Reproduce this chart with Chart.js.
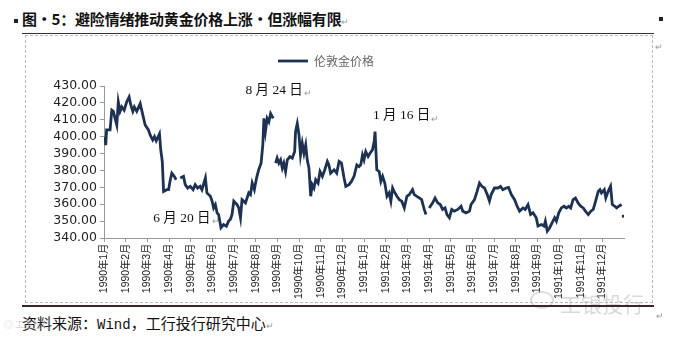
<!DOCTYPE html>
<html lang="zh-CN">
  <head>
    <meta charset="UTF-8" />
    <title>伦敦金价格</title>
    <script src="https://cdn.jsdelivr.net/npm/chart.js"></script>
    <style>
      * {
        margin: 0;
        padding: 0;
        box-sizing: border-box;
      }

      body {
        width: 673px;
        height: 338px;
        background: #fff;
        position: relative;
        overflow: hidden;
        font-family: "Noto Sans CJK SC", sans-serif;
      }

      /* 标题 */
      .title {
        position: absolute;
        left: 14px;
        top: 8px;
        font-size: 15px;
        font-weight: bold;
        color: #111;
        white-space: nowrap;
        letter-spacing: -0.2px;
      }
      .title .sq {
        display: inline-block;
        width: 4px;
        height: 4px;
        background: #222;
        margin-right: 4px;
        vertical-align: middle;
      }
      .ret {
        font-weight: normal;
        font-size: 9px;
        color: #999;
      }
      .sq-right {
        position: absolute;
        left: 659px;
        top: 17px;
        width: 4px;
        height: 4px;
        background: #222;
      }
      .rule-top {
        position: absolute;
        left: 22px;
        top: 33px;
        width: 632px;
        height: 1px;
        background: #333;
      }
      .rule-bottom {
        position: absolute;
        left: 22px;
        top: 305px;
        width: 632px;
        height: 2px;
        background: #3a2626;
      }

      /* 图表外框 */
      .frame {
        position: absolute;
        left: 25px;
        top: 35px;
        width: 628px;
        height: 268px;
        border: 1px dashed #bbb;
      }
      #goldChart {
        position: absolute;
        left: 28px;
        top: 38px;
      }

      .source {
        position: absolute;
        left: 22px;
        top: 312px;
        font-size: 15px;
        color: #111;
        white-space: nowrap;
      }
      .source .wind {
        font-family: "Liberation Mono", monospace;
        font-size: 14px;
      }
      .ret-side {
        position: absolute;
        font-size: 9px;
        color: #999;
      }

      /* 水印 */
      .mark {
        position: absolute;
        left: 560px;
        top: 288px;
        font-size: 21px;
        color: rgba(170, 170, 170, 0.45);
        white-space: nowrap;
      }
      .mark-ring {
        position: absolute;
        left: 530px;
        top: 291px;
        width: 24px;
        height: 18px;
        border: 2px solid rgba(170, 170, 170, 0.4);
        border-radius: 50%;
      }
      .mark-left {
        position: absolute;
        left: 4px;
        top: 318px;
        font-size: 9px;
        color: rgba(170, 170, 170, 0.5);
      }
    </style>
  </head>
  <body>
    <div class="title"><span class="sq"></span>图·5：避险情绪推动黄金价格上涨·但涨幅有限<span class="ret">↵</span></div>
    <div class="sq-right"></div>
    <div class="rule-top"></div>
    <div class="frame"></div>
    <span class="ret-side" style="left: 655px; top: 40px">↵</span>
    <canvas id="goldChart" width="623" height="262"></canvas>
    <div class="mark-ring"></div>
    <div class="mark">工银投行</div>
    <div class="rule-bottom"></div>
    <div class="source">资料来源：<span class="wind">Wind</span>，工行投行研究中心<span class="ret">↵</span></div>
    <span class="ret-side" style="left: 656px; top: 309px">↵</span>
    <div class="mark-left">◎ 工银投行</div>

    <script>
      // 时间轴：自1990年1月起的月数（可为小数），null 处为数据缺口
      var months = [
        0.05, 0.08, 0.12, 0.28, 0.36, 0.43, 0.51, 0.59, 0.66, 0.74, 0.82, 0.93,
        1.05, 1.16, 1.24, 1.33, 1.4, 1.51, 1.67, 1.74, 1.9, 2.05, 2.13, 2.25,
        2.33, 2.41, 2.56, 2.62, 2.69, 2.75, 2.9, 2.98, 3.06, 3.13, 3.24, 3.33,
        3.42,
        3.52, 3.67, 3.75, 3.86, 3.98, 4.11, 4.21, 4.32, 4.44, 4.52, 4.68, 4.75,
        4.91, 4.99, 5.06, 5.14, 5.22, 5.29, 5.4, 5.52, 5.65, 5.75, 5.83, 5.91,
        5.99, 6.14, 6.22, 6.3, 6.37, 6.53, 6.68, 6.76, 6.84, 6.94, 7.04, 7.14,
        7.25, 7.33, 7.38, 7.45, 7.53, 7.61, 7.69, 7.81,
        7.86,
        7.92, 7.99, 8.07, 8.15, 8.23, 8.3, 8.38, 8.46, 8.58, 8.69, 8.8, 8.84,
        8.92, 9.0, 9.07, 9.15, 9.23, 9.31, 9.38, 9.46, 9.54, 9.61, 9.69, 9.77,
        9.88, 9.97, 10.08, 10.19, 10.31, 10.38, 10.46, 10.62, 10.74, 10.85,
        10.96, 11.08, 11.16, 11.31, 11.42, 11.54, 11.67, 11.77, 11.85, 11.93,
        12.0, 12.08, 12.19, 12.28, 12.39, 12.47, 12.51, 12.59, 12.7, 12.78,
        12.86, 12.96, 13.06, 13.16, 13.24, 13.32, 13.39, 13.52, 13.63, 13.74,
        13.86, 13.98, 14.09, 14.24, 14.32, 14.44, 14.55, 14.66, 14.78, 14.86,
        14.93,
        15.01, 15.17, 15.28, 15.4, 15.52, 15.63, 15.74, 15.83, 15.94, 16.05,
        16.17, 16.33, 16.48, 16.56, 16.71, 16.87, 16.94, 17.1, 17.22, 17.33,
        17.44, 17.56, 17.69, 17.79, 17.87, 18.02, 18.18, 18.3, 18.41, 18.56,
        18.67, 18.8, 18.95, 19.07, 19.18, 19.34, 19.44, 19.57, 19.69, 19.8,
        19.95, 20.03, 20.19, 20.31, 20.37, 20.46, 20.57, 20.68, 20.8, 20.88,
        20.99, 21.11, 21.23, 21.34, 21.45, 21.54, 21.65, 21.76, 21.88, 22.0,
        22.12, 22.22, 22.35, 22.47, 22.58, 22.69, 22.81, 22.89, 22.96, 23.09,
        23.16, 23.27, 23.38, 23.46, 23.58, 23.66, 23.76, 23.89,
        23.93,
        23.97
      ];

      // 伦敦金价格（美元/盎司）
      var prices = [
        400, 395, 404, 404, 415.7, 415, 410.8, 406.9, 420.6, 415, 417.6, 415.7,
        420.6, 423.5, 418.6, 415, 417.6, 415, 419.6, 415.7, 406.9, 404, 401, 398,
        400, 397.5, 401.6, 392.2, 385.3, 367.6, 368.6, 368.6, 374.5, 378.4, 376.5, 374.5,
        null,
        375.5, 376.5, 371.6, 369.6, 370.6, 368.6, 371.6, 369.6, 370.6, 368.6, 375.5, 366.7,
        364.7, 361.8, 357.8, 359.8, 354.9, 353.9, 346.1, 348, 347, 350, 351, 354,
        361.8, 359.8, 357.8, 352, 362.7, 360.8, 366.7, 365.7, 372.5, 368.6, 375.5, 380.4,
        384.3, 395.1, 410.8, 403, 410.8, 408.8, 413.7, 410.8,
        null,
        384.3, 387.3, 384.3, 386.3, 381.4, 384.3, 379.4, 386.3, 388.2, 387.3, 391.2, 403,
        407.8, 401, 389.2, 396.1, 390.2, 395.1, 386.3, 381.4, 364.7, 371.6, 369.6, 374.5,
        372.5, 379.4, 376.5, 380.4, 385.3, 383.3, 378.4, 380.4, 378.4, 385.3,
        384.3, 375.5, 370.6, 371.6, 373.5, 376.5, 383.3, 382.3, 383.3, 389.2,
        386.3, 391.2, 388.2, 390.2, 392.2, 397.1, 403, 380.4, 379.4, 373.5,
        376.5, 372.5, 364.7, 366.7, 361.8, 369.6, 367.6, 364.7, 362.7, 361.8,
        357.8, 364.7, 365.7, 368.6, 365.7, 364.7, 363.7, 362.7, 356.9, 353.9,
        null,
        357.8, 360.8, 363.7, 360.8, 359.8, 356.9, 357.8, 353.9, 352, 356.9,
        355.9, 356.9, 358.8, 355.9, 354.9, 355.9, 359.8, 362.7, 367.6, 372.5,
        370.6, 369.6, 365.7, 361.8, 365.7, 369.6, 369.6, 370.6, 368.6, 369.6,
        370, 365.7, 362.7, 358.8, 355.9, 357.8, 356.9, 359.8, 353.9, 354.9,
        352, 347.1, 348, 347.1, 350, 344.1, 346.1, 349, 352, 350,
        354.9, 357.8, 358.8, 357.8, 358.8, 357.8, 362.7, 363.7, 360.8, 358.8,
        357.8, 355.9, 353.9, 355.9, 356.9, 361.8, 367.6, 368.6, 366.7, 368.6,
        363.7, 367.6, 370.6, 359.8, 358.8, 357.8, 358.8, 359.8,
        null,
        352.9
      ];

      // 横轴刻度标签，每月一个
      var monthLabels = [
        "1990年1月", "1990年2月", "1990年3月", "1990年4月", "1990年5月", "1990年6月",
        "1990年7月", "1990年8月", "1990年9月", "1990年10月", "1990年11月", "1990年12月",
        "1991年1月", "1991年2月", "1991年3月", "1991年4月", "1991年5月", "1991年6月",
        "1991年7月", "1991年8月", "1991年9月", "1991年10月", "1991年11月", "1991年12月"
      ];

      // 纵轴刻度
      var priceTicks = [340, 350, 360, 370, 380, 390, 400, 410, 420, 430];

      // 关键日期标注（文字起点，按数据坐标）
      var noteTexts = ["8 月 24 日", "6 月 20 日", "1 月 16 日"];
      var noteMonths = [6.53, 2.27, 12.41];
      var notePrices = [427.6, 351.8, 412.4];

      var points = months.map(function (m, i) {
        return { x: m, y: prices[i] };
      });

      // 图例与绘图区之间留一点空白
      var legendGap = {
        id: "legendGap",
        beforeInit: function (chart) {
          Chart.layouts.addBox(chart, {
            position: "top",
            weight: 0,
            fullSize: true,
            options: {},
            left: 0,
            top: 0,
            right: 0,
            bottom: 0,
            width: 0,
            height: 0,
            update: function (w) {
              this.width = w;
              this.height = 9;
            },
            isHorizontal: function () {
              return true;
            },
            draw: function () {},
          });
        },
      };

      // 在图上写标注文字
      var notePlugin = {
        id: "notes",
        afterDatasetsDraw: function (chart) {
          var ctx = chart.ctx;
          var xs = chart.scales.x;
          var ys = chart.scales.y;
          ctx.save();
          ctx.textBaseline = "middle";
          ctx.textAlign = "left";
          noteTexts.forEach(function (t, i) {
            var px = xs.getPixelForValue(noteMonths[i]);
            var py = ys.getPixelForValue(notePrices[i]);
            ctx.font = '13.5px "Liberation Serif", "Noto Sans CJK SC", serif';
            ctx.fillStyle = "#111";
            ctx.fillText(t, px, py);
            var w = ctx.measureText(t).width;
            ctx.font = '9px "Noto Sans CJK SC", sans-serif';
            ctx.fillStyle = "#999";
            ctx.fillText("↵", px + w + 1, py + 3);
          });
          ctx.restore();
        },
      };

      var ctx = document.getElementById("goldChart").getContext("2d");
      new Chart(ctx, {
        type: "line",
        data: {
          datasets: [
            {
              label: "伦敦金价格",
              data: points,
              borderColor: "#1d3253",
              backgroundColor: "#1d3253",
              borderWidth: 2.8,
              tension: 0,
              spanGaps: false,
              pointStyle: "line",
              // 前后都是缺口的孤立点画成小圆点
              pointRadius: function (c) {
                var d = c.dataset.data;
                var i = c.dataIndex;
                var prev = d[i - 1];
                var next = d[i + 1];
                var lone = (!prev || prev.y == null) && (!next || next.y == null);
                return lone ? 1.5 : 0;
              },
              pointHoverRadius: 0,
            },
          ],
        },
        options: {
          responsive: false,
          animation: false,
          layout: {
            padding: { top: 0, right: 27, left: 0, bottom: 0 },
          },
          plugins: {
            legend: {
              position: "top",
              labels: {
                usePointStyle: true,
                pointStyle: "line",
                pointStyleWidth: 30,
                padding: 17,
                color: "#666",
                font: { family: "Noto Sans CJK SC", size: 12 },
              },
            },
            tooltip: { enabled: false },
          },
          scales: {
            x: {
              type: "linear",
              min: 0,
              max: 24,
              afterFit: function (s) {
                s.height = 62;
              },
              afterBuildTicks: function (s) {
                s.ticks = monthLabels.map(function (_, i) {
                  return { value: i };
                });
              },
              grid: {
                drawOnChartArea: false,
                tickLength: 4,
                color: "#999",
              },
              border: { color: "#999" },
              ticks: {
                autoSkip: false,
                minRotation: 90,
                maxRotation: 90,
                padding: 2,
                color: "#222",
                font: { family: "Liberation Sans", size: 10.5 },
                callback: function (v) {
                  return monthLabels[v] || "";
                },
              },
            },
            y: {
              min: 340,
              max: 430,
              afterFit: function (s) {
                s.width = 76;
              },
              afterBuildTicks: function (s) {
                s.ticks = priceTicks.map(function (v) {
                  return { value: v };
                });
              },
              grid: {
                drawOnChartArea: false,
                tickLength: 4,
                color: "#999",
              },
              border: { color: "#999" },
              ticks: {
                autoSkip: false,
                padding: 3,
                color: "#222",
                font: { family: "DejaVu Sans", size: 12.5 },
                callback: function (v) {
                  return v.toFixed(2);
                },
              },
            },
          },
        },
        plugins: [legendGap, notePlugin],
      });
    </script>
  </body>
</html>
